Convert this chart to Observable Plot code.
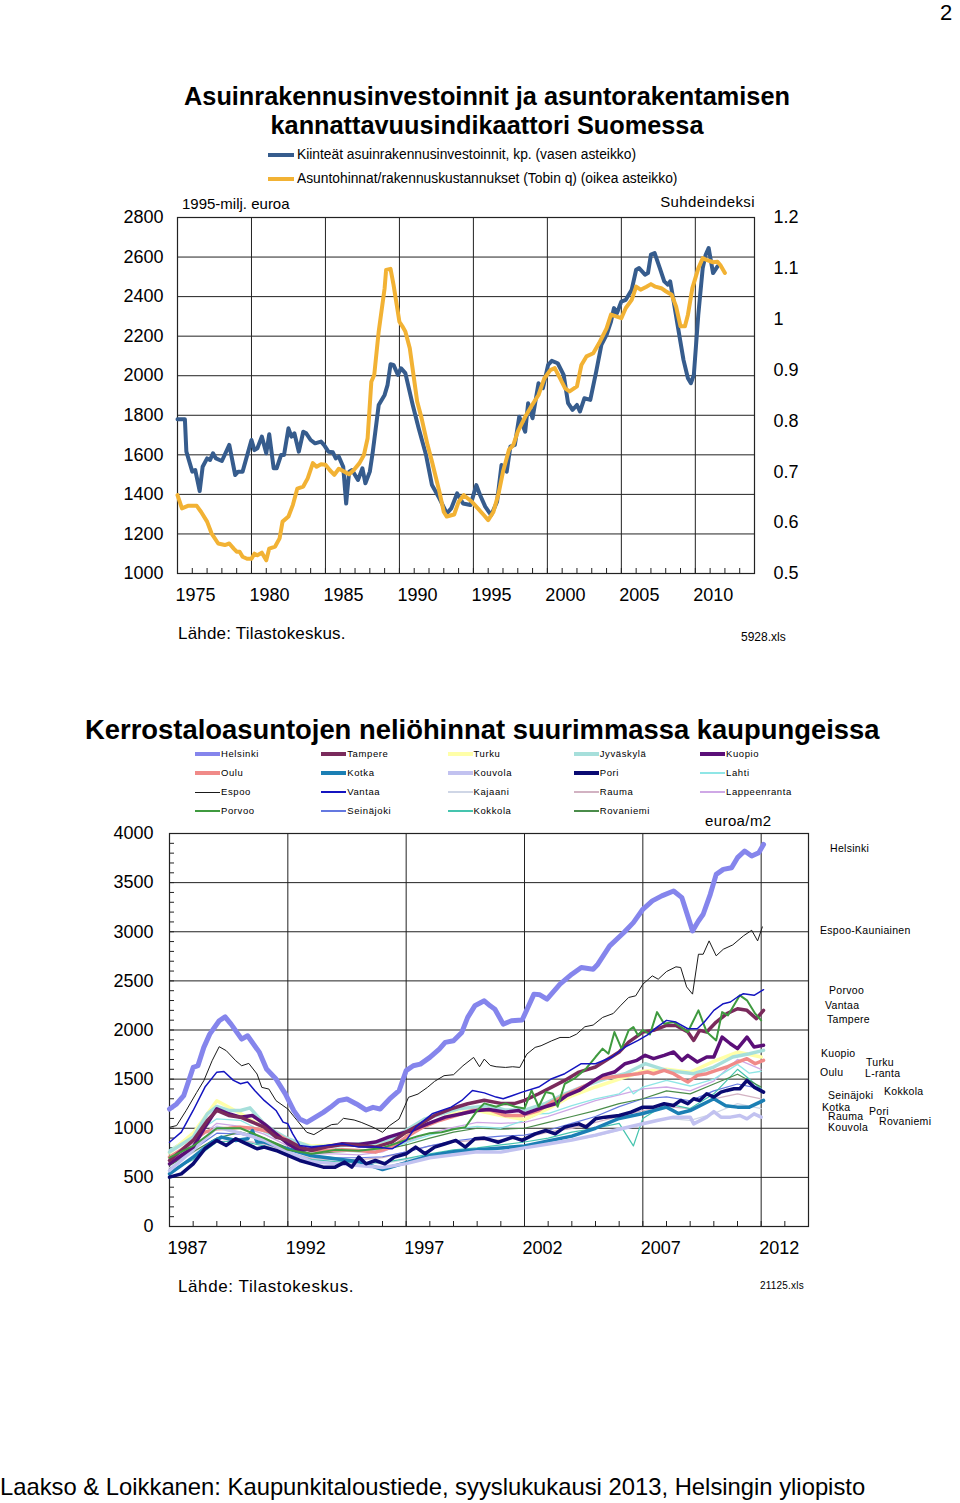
<!DOCTYPE html>
<html><head><meta charset="utf-8">
<script src="https://cdn.jsdelivr.net/npm/d3@7"></script>
<script src="https://cdn.jsdelivr.net/npm/@observablehq/plot@0.6"></script>
<style>
body{margin:0;background:#fff;}
#page{position:relative;width:960px;height:1503px;overflow:hidden;font-family:"Liberation Sans",Arial,sans-serif;color:#000;background:#fff;}
.t{position:absolute;white-space:nowrap;line-height:1;}
.narrow{font-family:"Liberation Sans Narrow","Arial Narrow","Liberation Sans",sans-serif;font-stretch:condensed;}
.chart{position:absolute;left:0;}
.sw{position:absolute;height:0;}
</style></head><body><div id="page"></div>
<script>
// ---------- Chart 1 data ----------
const investment = [[1975.0,1780],[1975.5,1780],[1975.6,1616],[1976.0,1515],[1976.2,1523],[1976.5,1417],[1976.7,1540],[1977.0,1582],[1977.2,1574],[1977.4,1608],[1977.6,1582],[1978.0,1569],[1978.5,1650],[1978.9,1498],[1979.1,1515],[1979.4,1515],[1980.0,1675],[1980.2,1624],[1980.4,1633],[1980.7,1692],[1981.0,1608],[1981.2,1704],[1981.5,1532],[1981.7,1532],[1982.0,1599],[1982.2,1599],[1982.5,1734],[1982.7,1692],[1982.9,1709],[1983.2,1616],[1983.5,1717],[1983.7,1709],[1984.0,1675],[1984.3,1658],[1984.7,1667],[1984.9,1650],[1985.2,1616],[1985.5,1613],[1985.7,1582],[1985.9,1591],[1986.2,1540],[1986.4,1354],[1986.6,1515],[1986.8,1523],[1987.2,1473],[1987.5,1532],[1987.7,1456],[1988.0,1515],[1988.2,1616],[1988.6,1852],[1989.0,1903],[1989.2,1954],[1989.4,2058],[1989.6,2055],[1989.9,2004],[1990.1,2038],[1990.4,2013],[1990.9,1852],[1991.3,1734],[1991.8,1599],[1992.2,1447],[1992.7,1380],[1993.2,1304],[1993.5,1329],[1993.9,1405],[1994.3,1354],[1994.8,1346],[1995.2,1447],[1995.45,1397],[1995.8,1338],[1996.2,1295],[1996.6,1363],[1996.9,1549],[1997.25,1515],[1997.5,1641],[1997.8,1650],[1998.1,1793],[1998.5,1717],[1998.7,1861],[1999.0,1785],[1999.4,1962],[1999.7,1937],[2000.05,2055],[2000.3,2075],[2000.7,2063],[2001.1,2004],[2001.4,1861],[2001.7,1827],[2002.0,1852],[2002.2,1819],[2002.5,1886],[2002.9,1878],[2003.3,2021],[2003.65,2156],[2004.0,2207],[2004.3,2274],[2004.5,2342],[2004.7,2316],[2005.0,2375],[2005.3,2384],[2005.7,2435],[2006.0,2536],[2006.2,2544],[2006.6,2511],[2006.8,2519],[2007.0,2612],[2007.25,2620],[2007.6,2544],[2007.9,2477],[2008.15,2460],[2008.3,2477],[2008.5,2392],[2008.8,2257],[2009.2,2080],[2009.5,1987],[2009.7,1962],[2009.9,2004],[2010.2,2308],[2010.5,2544],[2010.7,2612],[2010.9,2646],[2011.2,2519],[2011.5,2553]];
const tobinQ = [[1975.0,0.654],[1975.3,0.628],[1975.7,0.633],[1976.3,0.633],[1976.6,0.621],[1977.0,0.602],[1977.3,0.579],[1977.75,0.559],[1978.2,0.556],[1978.5,0.559],[1978.8,0.549],[1979.0,0.543],[1979.2,0.543],[1979.4,0.533],[1979.7,0.529],[1980.0,0.529],[1980.2,0.539],[1980.4,0.536],[1980.7,0.541],[1981.0,0.526],[1981.2,0.549],[1981.6,0.553],[1981.9,0.569],[1982.1,0.602],[1982.5,0.612],[1982.8,0.635],[1983.1,0.667],[1983.5,0.671],[1983.8,0.687],[1984.15,0.717],[1984.4,0.710],[1984.7,0.715],[1985.0,0.714],[1985.3,0.703],[1985.6,0.694],[1985.9,0.706],[1986.1,0.703],[1986.6,0.695],[1986.9,0.703],[1987.3,0.717],[1987.6,0.733],[1987.85,0.766],[1988.1,0.877],[1988.3,0.891],[1988.6,0.976],[1989.0,1.061],[1989.1,1.097],[1989.4,1.099],[1989.6,1.068],[1990.0,0.995],[1990.2,0.986],[1990.4,0.976],[1990.7,0.943],[1991.2,0.838],[1991.5,0.805],[1991.9,0.753],[1992.2,0.720],[1992.7,0.661],[1993.0,0.621],[1993.2,0.612],[1993.7,0.616],[1994.0,0.641],[1994.35,0.654],[1994.9,0.641],[1995.3,0.628],[1995.7,0.615],[1996.0,0.605],[1996.35,0.621],[1996.7,0.657],[1997.0,0.700],[1997.4,0.743],[1997.7,0.753],[1998.0,0.779],[1998.5,0.808],[1998.9,0.828],[1999.4,0.851],[1999.8,0.884],[2000.2,0.900],[2000.5,0.904],[2000.85,0.884],[2001.2,0.864],[2001.5,0.858],[2002.0,0.868],[2002.3,0.910],[2002.65,0.927],[2003.1,0.933],[2003.5,0.953],[2004.0,0.982],[2004.3,1.009],[2004.7,1.005],[2005.0,1.002],[2005.3,1.022],[2005.7,1.038],[2006.0,1.064],[2006.3,1.058],[2006.7,1.064],[2007.0,1.069],[2007.3,1.064],[2007.7,1.061],[2008.0,1.055],[2008.4,1.048],[2008.7,1.025],[2009.0,0.986],[2009.3,0.986],[2009.5,1.009],[2009.8,1.061],[2010.2,1.100],[2010.5,1.120],[2010.8,1.116],[2011.2,1.112],[2011.5,1.113],[2011.7,1.106],[2012.0,1.091]];
const invTicks = [1000,1200,1400,1600,1800,2000,2200,2400,2600,2800];
const qTicks = [0.5,0.6,0.7,0.8,0.9,1.0,1.1,1.2];
const topYearLabels = [1975,1980,1985,1990,1995,2000,2005,2010];
const topGridYears = [1980,1985,1990,1995,2000,2005,2010];
const topMinorYears = d3.range(1976, 2014);

// ---------- Chart 2 data (euroa/m2) ----------
const helsinki = [[1987.0,1196],[1987.3,1247],[1987.6,1331],[1988.0,1619],[1988.2,1636],[1988.45,1823],[1988.7,1958],[1989.1,2094],[1989.35,2134],[1989.6,2060],[1990.05,1907],[1990.3,1941],[1990.8,1772],[1991.1,1603],[1991.5,1501],[1991.9,1348],[1992.25,1179],[1992.5,1094],[1992.8,1060],[1993.15,1111],[1993.5,1162],[1993.8,1213],[1994.15,1281],[1994.5,1298],[1994.9,1247],[1995.3,1186],[1995.6,1213],[1995.9,1196],[1996.3,1298],[1996.7,1382],[1997.0,1586],[1997.3,1636],[1997.6,1653],[1998.0,1721],[1998.4,1806],[1998.65,1874],[1999.0,1890],[1999.35,1975],[1999.6,2128],[1999.9,2246],[2000.3,2297],[2000.55,2246],[2000.75,2212],[2001.1,2060],[2001.45,2094],[2001.9,2101],[2002.4,2365],[2002.65,2358],[2002.95,2314],[2003.5,2466],[2004.0,2568],[2004.4,2636],[2004.9,2619],[2005.1,2670],[2005.6,2856],[2006.2,2992],[2006.6,3093],[2007.0,3229],[2007.4,3314],[2007.8,3365],[2008.3,3415],[2008.65,3347],[2009.1,3009],[2009.35,3110],[2009.55,3178],[2009.85,3381],[2010.1,3584],[2010.4,3635],[2010.75,3652],[2011.0,3754],[2011.3,3822],[2011.6,3771],[2011.9,3805],[2012.1,3889]];
const espoo = [[1987.0,1010],[1987.3,1027],[1987.7,1179],[1988.15,1365],[1988.45,1484],[1988.8,1687],[1989.1,1830],[1989.4,1789],[1989.8,1687],[1990.05,1636],[1990.35,1660],[1990.7,1552],[1990.9,1416],[1991.2,1399],[1991.5,1281],[1992.0,1196],[1992.4,1077],[1992.8,959],[1993.1,935],[1993.5,993],[1993.85,1037],[1994.1,1043],[1994.35,1101],[1994.8,1084],[1995.1,1060],[1995.6,1010],[1996.0,959],[1996.3,1027],[1996.7,1094],[1996.95,1230],[1997.1,1315],[1997.5,1348],[1997.9,1416],[1998.2,1477],[1998.6,1535],[1999.0,1545],[1999.4,1636],[1999.85,1721],[2000.1,1626],[2000.3,1704],[2000.55,1640],[2000.8,1626],[2001.2,1619],[2001.5,1626],[2001.8,1619],[2002.1,1755],[2002.45,1823],[2002.7,1840],[2003.15,1890],[2003.5,1924],[2003.9,1924],[2004.2,1958],[2004.55,2033],[2004.9,2050],[2005.3,2128],[2005.75,2168],[2006.05,2246],[2006.4,2331],[2006.7,2348],[2007.0,2466],[2007.4,2551],[2007.65,2517],[2008.0,2595],[2008.4,2643],[2008.6,2636],[2008.85,2439],[2009.1,2365],[2009.35,2771],[2009.55,2771],[2009.8,2907],[2010.1,2755],[2010.4,2822],[2010.8,2866],[2011.25,2958],[2011.6,3015],[2011.85,2907],[2012.05,3049]];
const vantaa = [[1987.0,858],[1987.5,961],[1988.0,1181],[1988.5,1419],[1989.0,1571],[1989.3,1578],[1989.7,1487],[1990.0,1453],[1990.3,1470],[1990.6,1385],[1991.0,1283],[1991.5,1181],[1991.8,1062],[1992.0,1045],[1992.2,945],[1992.5,825],[1993.0,808],[1993.6,825],[1994.3,842],[1995.0,808],[1995.7,808],[1996.4,791],[1997.0,876],[1997.4,1011],[1998.1,1147],[1998.9,1215],[1999.35,1283],[1999.8,1385],[2000.3,1360],[2000.8,1317],[2001.1,1300],[2001.5,1334],[2001.9,1368],[2002.6,1419],[2003.15,1504],[2003.7,1555],[2004.4,1657],[2005.0,1657],[2005.7,1725],[2006.25,1827],[2006.8,1894],[2007.2,1950],[2007.6,2030],[2008.0,2098],[2008.4,2081],[2008.9,2013],[2009.3,2013],[2009.6,2081],[2010.0,2200],[2010.4,2268],[2010.7,2285],[2011.0,2336],[2011.25,2370],[2011.7,2353],[2012.1,2410]];
const porvoo = [[1987.0,700],[1988.0,820],[1989.0,1000],[1990.0,1000],[1991.0,900],[1992.0,780],[1993.0,740],[1994.0,780],[1995.0,770],[1996.0,800],[1997.0,880],[1997.5,920],[1998.0,950],[1998.5,960],[1999.0,990],[1999.5,1010],[2000.0,1180],[2000.3,1253],[2000.8,1219],[2001.2,1253],[2001.6,1219],[2002.0,1202],[2002.3,1385],[2002.6,1219],[2002.9,1368],[2003.2,1351],[2003.4,1219],[2003.7,1453],[2004.1,1504],[2004.6,1606],[2005.0,1725],[2005.3,1810],[2005.55,1759],[2005.8,1979],[2006.1,1810],[2006.4,1996],[2006.6,2030],[2006.8,1945],[2007.0,2000],[2007.3,1955],[2007.6,2182],[2007.9,2064],[2008.3,2081],[2008.6,2030],[2008.9,1979],[2009.35,2200],[2009.7,1979],[2010.1,1894],[2010.35,2182],[2010.6,2149],[2011.1,2353],[2011.4,2302],[2011.75,2166],[2012.0,2098]];
const tampere = [[1987.0,672],[1988.0,876],[1988.6,1080],[1989.0,1181],[1989.5,1130],[1990.0,1113],[1990.5,1062],[1991.0,1011],[1991.5,910],[1992.0,876],[1992.5,808],[1993.0,774],[1993.6,808],[1994.3,835],[1995.0,825],[1995.7,808],[1996.4,859],[1997.0,961],[1997.5,1028],[1998.2,1130],[1998.9,1198],[1999.6,1249],[2000.3,1285],[2001.0,1253],[2001.6,1253],[2002.0,1283],[2002.6,1351],[2003.15,1419],[2003.7,1487],[2004.3,1572],[2005.0,1623],[2005.55,1708],[2006.0,1776],[2006.4,1877],[2007.0,1979],[2007.45,1996],[2008.0,2047],[2008.4,2047],[2008.9,1979],[2009.15,1894],[2009.4,1996],[2009.7,1979],[2010.1,2081],[2010.55,2166],[2011.0,2216],[2011.4,2200],[2011.8,2115],[2012.1,2200]];
const kuopio = [[1987.0,638],[1987.5,723],[1988.0,808],[1988.5,1011],[1989.0,1198],[1989.5,1147],[1990.0,1113],[1990.5,1130],[1991.0,1045],[1991.5,943],[1992.0,842],[1992.5,774],[1993.0,791],[1993.5,808],[1994.3,842],[1995.0,835],[1995.7,859],[1996.25,910],[1996.7,943],[1997.25,977],[1997.9,1045],[1998.65,1113],[1999.35,1147],[2000.0,1181],[2000.5,1190],[2001.2,1164],[2001.75,1181],[2002.0,1147],[2002.6,1198],[2003.3,1249],[2003.8,1334],[2004.3,1385],[2004.85,1470],[2005.3,1538],[2005.8,1572],[2006.25,1657],[2006.75,1691],[2007.1,1742],[2007.45,1708],[2007.9,1742],[2008.3,1776],[2008.65,1691],[2008.9,1742],[2009.3,1674],[2009.7,1725],[2010.0,1725],[2010.35,1928],[2010.7,1860],[2011.0,1810],[2011.4,1928],[2011.7,1827],[2012.1,1844]];
const jyvaskyla = [[1987.0,757],[1988.0,910],[1988.6,1147],[1989.0,1222],[1989.5,1181],[1990.0,1181],[1990.4,1208],[1991.0,1045],[1991.5,961],[1992.0,893],[1993.0,808],[1994.3,825],[1995.0,842],[1995.7,850],[1996.4,893],[1997.1,994],[1997.8,1096],[1998.5,1147],[1999.2,1198],[1999.9,1215],[2000.5,1230],[2001.2,1185],[2002.0,1185],[2002.9,1253],[2003.7,1351],[2004.6,1436],[2005.4,1504],[2006.25,1555],[2007.1,1657],[2008.0,1589],[2009.15,1555],[2010.0,1623],[2010.8,1725],[2011.5,1759],[2012.1,1793]];
const turku = [[1987,750],[1988,950],[1989,1280],[1990,1150],[1991,1000],[1992,880],[1993,820],[1994,830],[1995,830],[1996,850],[1997,950],[1998,1050],[1999,1150],[2000,1180],[2001,1130],[2002,1090],[2003,1200],[2004,1330],[2005,1420],[2006,1500],[2007,1580],[2008,1600],[2009,1570],[2010,1680],[2011,1776],[2012,1725]];
const oulu = [[1987.0,706],[1987.5,780],[1988.0,876],[1988.5,961],[1989.0,994],[1989.5,1000],[1990.0,1011],[1990.5,1000],[1991.0,977],[1991.5,943],[1992.0,876],[1992.5,808],[1993.0,774],[1993.6,774],[1994.3,781],[1995.0,774],[1995.7,757],[1996.4,808],[1997.0,910],[1997.7,1011],[1998.4,1079],[1999.1,1130],[1999.8,1181],[2000.5,1190],[2001.2,1130],[2001.9,1130],[2002.6,1181],[2003.15,1266],[2003.85,1351],[2004.6,1436],[2005.1,1504],[2005.7,1521],[2006.25,1538],[2006.8,1555],[2007.2,1572],[2007.45,1555],[2007.9,1589],[2008.3,1555],[2008.65,1504],[2008.9,1470],[2009.3,1538],[2009.7,1555],[2010.1,1589],[2010.55,1623],[2011.0,1674],[2011.4,1708],[2011.75,1657],[2012.1,1691]];
const lahti = [[1987,780],[1988,930],[1989,1096],[1990,1080],[1991,960],[1992,850],[1993,780],[1994,770],[1995,760],[1996,780],[1997,850],[1998,930],[1999,990],[2000,1020],[2001,1000],[2002,1080],[2002.6,1147],[2003,1150],[2004,1230],[2005,1300],[2006,1351],[2006.4,1419],[2006.6,1350],[2007,1419],[2008,1487],[2009,1430],[2010,1500],[2011,1650],[2011.5,1560],[2012,1580]];
const kotka = [[1987,536],[1988,706],[1988.8,859],[1989.2,910],[1989.8,876],[1990.3,893],[1990.5,977],[1990.7,859],[1991,859],[1991.5,820],[1992,790],[1993,720],[1994,690],[1995,660],[1996,580],[1997,650],[1998,720],[1999,760],[2000,780],[2001,800],[2002,820],[2003,870],[2004,920],[2005,1000],[2006,1100],[2007,1150],[2008,1215],[2008.5,1150],[2009,1180],[2010,1300],[2010.5,1230],[2011,1215],[2011.5,1215],[2012.1,1283]];
const pori = [[1987,502],[1987.5,536],[1988,638],[1988.5,791],[1989,876],[1989.4,825],[1989.8,893],[1990.1,859],[1990.4,825],[1990.7,791],[1991,808],[1991.5,774],[1992,723],[1992.5,672],[1993,638],[1993.5,604],[1994,604],[1994.4,655],[1994.7,604],[1995,706],[1995.3,638],[1995.7,672],[1996.1,638],[1996.5,706],[1997,740],[1997.4,808],[1997.8,740],[1998.2,808],[1998.65,842],[1999.1,876],[1999.5,808],[1999.9,893],[2000.3,900],[2000.9,858],[2001.5,909],[2001.9,876],[2002.45,943],[2002.9,977],[2003.3,943],[2003.7,1011],[2004.3,1045],[2004.6,1011],[2005,1096],[2005.4,1113],[2006,1130],[2006.5,1164],[2007,1215],[2007.45,1215],[2007.9,1249],[2008.3,1232],[2008.6,1283],[2008.9,1249],[2009.15,1300],[2009.4,1283],[2009.7,1351],[2010,1317],[2010.3,1368],[2010.55,1385],[2010.85,1402],[2011.1,1402],[2011.4,1487],[2011.7,1419],[2012.1,1368]];
const kouvola = [[1987,570],[1988,780],[1989,1011],[1990,950],[1991,880],[1992,760],[1993,660],[1994,640],[1995,620],[1996,600],[1997,640],[1998,700],[1999,730],[2000,760],[2001,757],[2002,800],[2003,840],[2004,880],[2005,930],[2006,990],[2007,1045],[2007.6,1079],[2008.3,1113],[2009,1113],[2009.15,1045],[2009.7,1113],[2010,1170],[2010.3,1113],[2010.7,1113],[2011.1,1130],[2011.4,1096],[2011.7,1147],[2012,1113]];
const kajaani = [[1987,600],[1988,750],[1989,900],[1990,880],[1991,830],[1992,750],[1993,680],[1994,660],[1995,650],[1996,640],[1997,680],[1998,720],[1999,760],[2000,780],[2001,790],[2002,800],[2003,840],[2004,880],[2005,920],[2006,980],[2007,1050],[2008,1100],[2009,1080],[2010,1150],[2011,1250],[2012,1200]];
const rauma = [[1987,560],[1988,700],[1989,860],[1990,880],[1991,840],[1992,760],[1993,690],[1994,680],[1995,680],[1996,700],[1997,760],[1998,820],[1999,860],[2000,880],[2001,880],[2002,900],[2003,960],[2004,1000],[2005,1060],[2006,1120],[2007,1180],[2008,1220],[2009,1200],[2010,1300],[2011,1350],[2012,1300]];
const lappeenranta = [[1987,650],[1988,850],[1989,1050],[1990,1020],[1991,940],[1992,820],[1993,740],[1994,740],[1995,730],[1996,760],[1997,860],[1998,950],[1999,1010],[2000,1060],[2001,1050],[2002,1060],[2003,1120],[2004,1200],[2005,1280],[2006,1340],[2007,1400],[2008,1420],[2009,1380],[2010,1480],[2011,1700],[2012,1600]];
const seinajoki = [[1987,620],[1988,780],[1989,950],[1990,940],[1991,880],[1992,780],[1993,720],[1994,700],[1995,700],[1996,710],[1997,760],[1998,820],[1999,870],[2000,900],[2001,920],[2002,930],[2003,980],[2004,1050],[2005,1120],[2006,1220],[2007,1300],[2008,1320],[2009,1280],[2010,1380],[2011,1450],[2012,1400]];
const kokkola = [[1987,560],[1988,680],[1989,860],[1990,870],[1991,820],[1992,740],[1993,680],[1994,660],[1995,650],[1996,650],[1997,690],[1998,740],[1999,780],[2000,800],[2001,830],[2002,860],[2003,900],[2004,960],[2005,1000],[2006,1050],[2006.6,820],[2007,1100],[2008,1250],[2009,1200],[2010,1350],[2011,1600],[2012,1400]];
const rovaniemi = [[1987,620],[1988,760],[1989,900],[1990,960],[1991,900],[1992,800],[1993,740],[1994,760],[1995,770],[1996,780],[1997,830],[1998,900],[1999,960],[2000,1000],[2001,990],[2002,1000],[2003,1060],[2004,1120],[2005,1180],[2006,1250],[2007,1300],[2008,1380],[2009,1350],[2010,1450],[2011,1550],[2012,1420]];
const priceTicks = [0,500,1000,1500,2000,2500,3000,3500,4000];
const priceMinor = d3.range(100, 4000, 100);
const bottomYearLabels = [1987,1992,1997,2002,2007,2012];
const bottomGridYears = [1992,1997,2002,2007,2012];
const bottomMinorYears = d3.range(1988, 2014);

const legendCities = ["Helsinki","Tampere","Turku","Jyväskylä","Kuopio","Oulu","Kotka","Kouvola","Pori","Lahti","Espoo","Vantaa","Kajaani","Rauma","Lappeenranta","Porvoo","Seinäjoki","Kokkola","Rovaniemi"];
const citySeries = {Helsinki:helsinki,Tampere:tampere,Turku:turku,"Jyväskylä":jyvaskyla,Kuopio:kuopio,Oulu:oulu,Kotka:kotka,Kouvola:kouvola,Pori:pori,Lahti:lahti,Espoo:espoo,Vantaa:vantaa,Kajaani:kajaani,Rauma:rauma,Lappeenranta:lappeenranta,Porvoo:porvoo,"Seinäjoki":seinajoki,Kokkola:kokkola,Rovaniemi:rovaniemi};

// ---------- styles / layout ----------
const cityStyle = {
  Helsinki:["#8585ec",5], Tampere:["#7a2a5c",3.5], Turku:["#ffffa8",3.5], "Jyväskylä":["#a6dfdb",3.5], Kuopio:["#5b0f78",3.5],
  Oulu:["#f08a88",3.5], Kotka:["#1b7fb4",3.5], Kouvola:["#c2c2f0",3.5], Pori:["#0a0a72",3.5], Lahti:["#8fe6e6",1.3],
  Espoo:["#1a1a1a",1], Vantaa:["#1414c0",1.5], Kajaani:["#cfd6e6",1.3], Rauma:["#d2b2c2",1.3], Lappeenranta:["#cfa8e6",1.3],
  Porvoo:["#3f9a3f",2], "Seinäjoki":["#6478e0",1.2], Kokkola:["#45c4ae",1.2], Rovaniemi:["#4a8c4a",1.2]
};
const drawOrder = ["Kajaani","Rauma","Lappeenranta","Seinäjoki","Kokkola","Rovaniemi","Lahti","Turku","Jyväskylä","Oulu","Kotka","Kouvola","Pori","Kuopio","Tampere","Porvoo","Vantaa","Espoo","Helsinki"];
const endLabels = [["Helsinki",830,848],["Espoo-Kauniainen",820,930],["Porvoo",829,990],["Vantaa",825,1005],["Tampere",827,1019],["Kuopio",821,1053],["Turku",866,1062],["Oulu",820,1072],["L-ranta",865,1073],["Seinäjoki",828,1095],["Kokkola",884,1091],["Kotka",822,1107],["Pori",869,1111],["Rauma",828,1116],["Rovaniemi",879,1121],["Kouvola",828,1127]];

const page = document.getElementById("page");
function txt(s, x, cy, size, extra = {}) {
  const d = document.createElement("div");
  d.className = "t" + (extra.cls ? " " + extra.cls : "");
  d.textContent = s;
  d.style.fontSize = size + "px";
  d.style.top = (cy - size * 0.5) + "px";
  if (extra.anchor === "end") { d.style.right = (960 - x) + "px"; } else { d.style.left = x + "px"; }
  if (extra.bold) d.style.fontWeight = "bold";
  if (extra.ls) d.style.letterSpacing = extra.ls + "px";
  page.appendChild(d);
  return d;
}
function swatch(x, y, w, color, sw) {
  const d = document.createElement("div");
  d.className = "sw";
  d.style.left = x + "px"; d.style.width = w + "px";
  d.style.top = (y - sw / 2) + "px"; d.style.height = sw + "px";
  d.style.background = color;
  page.appendChild(d);
}

// Page number
txt("2", 940, 13, 22);

// ---------- Chart 1 ----------
const title1 = document.createElement("div");
title1.className = "t";
title1.style.cssText = "left:0;width:974px;top:82px;text-align:center;font-weight:bold;font-size:25.3px;line-height:29px;";
title1.innerHTML = "Asuinrakennusinvestoinnit ja asuntorakentamisen<br>kannattavuusindikaattori Suomessa";
page.appendChild(title1);

swatch(268, 155, 26, "#365c8d", 4);
swatch(268, 179, 26, "#f2b234", 4);
txt("Kiinteät asuinrakennusinvestoinnit, kp. (vasen asteikko)", 297, 155, 13.8, {cls: "narrow"});
txt("Asuntohinnat/rakennuskustannukset (Tobin q) (oikea asteikko)", 297, 179, 13.8, {cls: "narrow"});
txt("1995-milj. euroa", 182, 203, 15);
txt("Suhdeindeksi", 755, 201, 15, {anchor: "end", ls: 0.4});

const qToInv = r => 1000 + (r - 0.5) * 1800 / 0.7;
const invToQ = v => 0.5 + (v - 1000) * 0.7 / 1800;

const chart1 = Plot.plot({
  width: 960, height: 420,
  marginTop: 27, marginBottom: 37, marginLeft: 177, marginRight: 206,
  x: {domain: [1975, 2014]},
  y: {domain: [1000, 2800]},
  style: {fontFamily: "Liberation Sans, Arial, sans-serif", fontSize: "18px", color: "#000", background: "transparent", overflow: "visible"},
  marks: [
    Plot.ruleY(invTicks, {stroke: "#222", strokeWidth: 1}),
    Plot.ruleX(topGridYears, {stroke: "#222", strokeWidth: 1}),
    Plot.tickX(topMinorYears, {x: d => d, stroke: "#222", insetTop: 351}),
    Plot.frame({stroke: "#222", strokeWidth: 1.2}),
    Plot.axisY({anchor: "left", ticks: invTicks, tickSize: 0, tickPadding: 14, label: null, tickFormat: d => String(d)}),
    Plot.axisY({anchor: "right", ticks: qTicks.map(qToInv), tickSize: 0, tickPadding: 19, label: null,
      tickFormat: v => String(Math.round(invToQ(v) * 10) / 10)}),
    Plot.axisX({ticks: topYearLabels, tickSize: 0, tickPadding: 15, textAnchor: "start", dx: -2, label: null, tickFormat: d => String(d)}),
    Plot.line(investment, {x: d => d[0], y: d => d[1], stroke: "#365c8d", strokeWidth: 4, strokeLinejoin: "round"}),
    Plot.line(tobinQ, {x: d => d[0], y: d => qToInv(d[1]), stroke: "#f2b234", strokeWidth: 4, strokeLinejoin: "round"})
  ]
});
chart1.classList.add("chart");
chart1.style.top = "190px";
page.appendChild(chart1);

txt("Lähde: Tilastokeskus.", 178, 633, 17, {ls: 0.2});
txt("5928.xls", 741, 637, 12, {cls: "narrow"});

// ---------- Chart 2 ----------
txt("Kerrostaloasuntojen neliöhinnat suurimmassa kaupungeissa", 85, 730, 27.4, {bold: true});
legendCities.forEach((c, i) => {
  const col = i % 5, row = Math.floor(i / 5);
  const x0 = 195 + col * 126.25, y0 = 754 + row * 19;
  const [color, w] = cityStyle[c];
  swatch(x0, y0, 25, color, Math.max(1, Math.min(w, 4)));
  txt(c, x0 + 26, y0, 9.5, {ls: 0.6});
});
txt("euroa/m2", 705, 820, 15, {ls: 0.4});

const chart2 = Plot.plot({
  width: 960, height: 450,
  marginTop: 13, marginBottom: 44, marginLeft: 169, marginRight: 152,
  x: {domain: [1987, 2014]},
  y: {domain: [0, 4000]},
  style: {fontFamily: "Liberation Sans, Arial, sans-serif", fontSize: "18px", color: "#000", background: "transparent", overflow: "visible"},
  marks: [
    Plot.ruleY(priceTicks, {stroke: "#222", strokeWidth: 1}),
    Plot.ruleX(bottomGridYears, {stroke: "#222", strokeWidth: 1}),
    Plot.tickX(bottomMinorYears, {x: d => d, stroke: "#222", insetTop: 388}),
    Plot.tickY(priceMinor, {y: d => d, stroke: "#222", insetRight: 634}),
    Plot.frame({stroke: "#222", strokeWidth: 1.2}),
    Plot.axisY({anchor: "left", ticks: priceTicks, tickSize: 0, tickPadding: 16, label: null, tickFormat: d => String(d)}),
    Plot.axisX({ticks: bottomYearLabels, tickSize: 0, tickPadding: 15, textAnchor: "start", dx: -2, label: null, tickFormat: d => String(d)}),
    ...drawOrder.map(c => Plot.line(citySeries[c], {x: d => d[0], y: d => d[1], stroke: cityStyle[c][0], strokeWidth: cityStyle[c][1], strokeLinejoin: "round"}))
  ]
});
chart2.classList.add("chart");
chart2.style.top = "820px";
page.appendChild(chart2);

endLabels.forEach(([s, x, y]) => txt(s, x, y, 10.5, {ls: 0.3}));

txt("Lähde: Tilastokeskus.", 178, 1286, 17, {ls: 0.6});
txt("21125.xls", 760, 1286, 10, {ls: 0.2});

txt("Laakso & Loikkanen: Kaupunkitaloustiede, syyslukukausi 2013, Helsingin yliopisto", 0, 1487, 23.8, {cls: "narrow"});
</script></body></html>
